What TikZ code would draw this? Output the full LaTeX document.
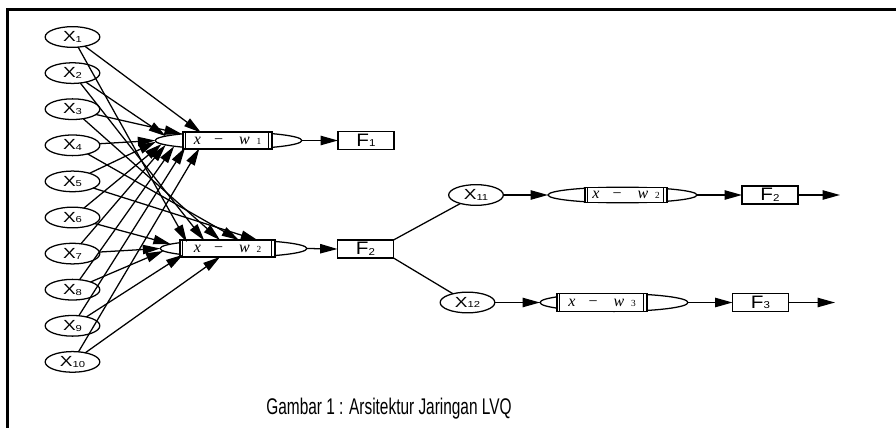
\documentclass[tikz,border=0pt]{standalone}
\usepackage{fontspec}
\usepackage{graphicx}
\setmainfont{Liberation Sans}
\newfontfamily\eqfont{Liberation Serif}
\usetikzlibrary{arrows.meta,shapes.geometric}

% input label X_i, set wide
\newcommand\xlab[1]{\scalebox{1.3}[1]{\fontsize{11pt}{12pt}\selectfont X\raisebox{-0.6pt}{\fontsize{6.5pt}{7pt}\selectfont #1}}}
% class label F_i
\newcommand\flab[1]{\scalebox{1.15}[1]{\fontsize{13.5pt}{14pt}\selectfont F\raisebox{-0.4pt}{\fontsize{7.5pt}{8pt}\selectfont #1}}}
% distance ||x - w_i||
\newcommand\dlab[1]{{\eqfont\fontsize{12pt}{12pt}\selectfont\itshape x\hspace{10pt}\upshape −\hspace{12pt}\itshape w\hspace{5pt}\upshape\fontsize{7pt}{7pt}\selectfont #1}}

\tikzset{
  every path/.style={line width=0.95pt},
  inp/.style={draw, ellipse, minimum width=41pt, minimum height=15.5pt, inner sep=0pt, outer sep=0pt},
  dist/.style={draw, ellipse, minimum width=110pt, minimum height=12.75pt, inner sep=0pt, outer sep=0pt},
  eqbox/.style={draw, fill=white, rectangle, minimum height=12.75pt, inner sep=0pt, outer sep=0pt},
  outbox/.style={draw, rectangle, minimum width=42pt, minimum height=13.5pt, inner sep=0pt, outer sep=0pt},
  arr/.style={-{Triangle[length=13pt,width=7pt]}},
}

\begin{document}
\begin{tikzpicture}[x=0.75pt,y=-0.75pt]
\useasboundingbox (0,0) rectangle (896,428);

% frame (top and left edges)
\draw[line width=1.8pt] (7.5,428) -- (7.5,9.5) -- (896,9.5);

% input nodes
\foreach \i in {1,...,10}{
  \node[inp] (in\i) at (72.5,{37+36.1*(\i-1)}) {\xlab{\i}};
}

% first layer of distance units
\node[dist] (e1) at (228.5,140.5) {};
\node[eqbox, minimum width=66.75pt] (q1) at (227.5,140.5) {\dlab{1}};
\node[dist] (e2) at (233.5,248.5) {};
\node[eqbox, minimum width=71.25pt] (q2) at (227.5,248.5) {\dlab{2}};

\node[outbox] (F1) at (366,140.5) {\flab{1}};
\node[outbox] (F2a) at (365.5,249) {\flab{2}};

% second stage
\node[inp] (x11) at (476,195) {\xlab{11}};
\node[dist, minimum width=111.75pt, minimum height=11.7pt] (e3) at (622.5,195) {};
\node[eqbox, minimum width=61.5pt, minimum height=11.7pt] (q3) at (626,195) {\dlab{2}};
\node[outbox] (F2b) at (770,195) {\flab{2}};
\coordinate (o2) at (840,195);

\node[inp] (x12) at (467.5,302.5) {\xlab{12}};
\node[dist, minimum width=111pt, minimum height=13.3pt] (e4) at (614,302.5) {};
\node[eqbox, minimum width=67.5pt, minimum height=13.3pt] (q4) at (602,302.5) {\dlab{3}};
\node[outbox] (F3) at (760.5,302.5) {\flab{3}};
\coordinate (o3) at (835,302.5);

% double bars of the norm signs
\foreach \q in {q1,q2,q3,q4}{
  \draw ([xshift=2pt]\q.north west) -- ([xshift=2pt]\q.south west);
  \draw ([xshift=-2.5pt]\q.north east) -- ([xshift=-2.5pt]\q.south east);
}

% inputs to first distance unit
\foreach \i/\a in {1/164,2/176,3/172,4/180,5/181.5,6/183,7/184.5,8/186,9/189,10/195}{
  \draw[arr] (in\i) -- (e1.\a);
}
% inputs to second distance unit
\foreach \i/\a in {1/172.5,2/165.8,3/148,4/57,5/18,6/176,7/180,8/182,9/187.5,10/212}{
  \draw[arr] (in\i) -- (e2.\a);
}

\draw[arr] (e1.east) -- (F1.west);
\draw[arr] (e2.east) -- (F2a.west);
\draw (F2a.north east) -- (x11);
\draw (F2a.south east) -- (x12);

\draw[arr] (x11.east) -- (e3.west);
\draw[arr] (e3.east) -- (F2b.west);
\draw[arr] (F2b.east) -- (o2);

\draw[arr] (x12.east) -- (e4.west);
\draw[arr] (e4.east) -- (F3.west);
\draw[arr] (F3.east) -- (o3);

% caption
\node (cap) at (389,409) {\scalebox{0.68}[1]{\fontsize{17pt}{19pt}\selectfont Gambar 1 : Arsitektur Jaringan LVQ}};
\end{tikzpicture}
\end{document}
